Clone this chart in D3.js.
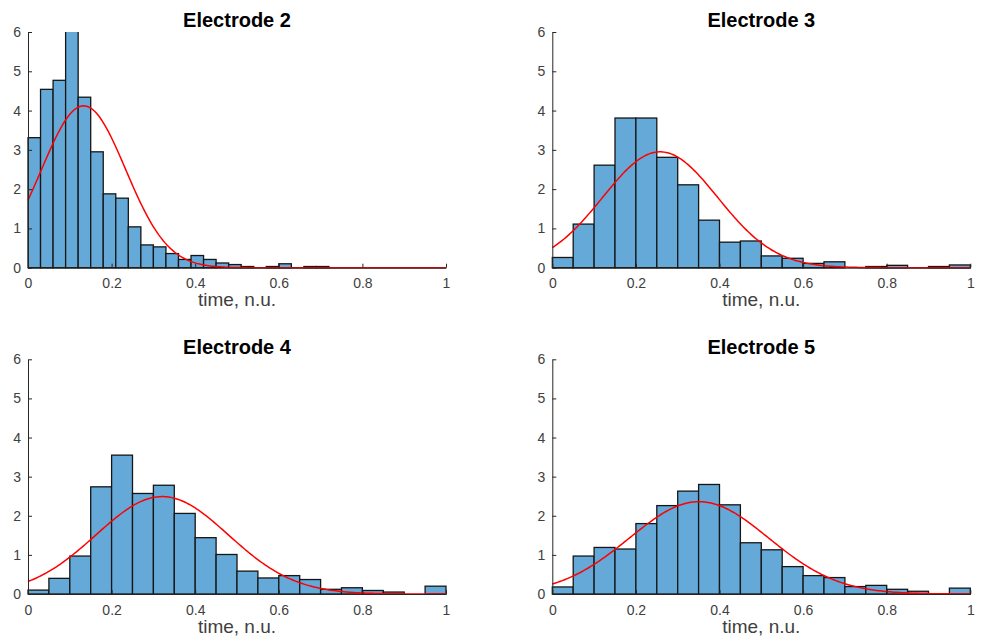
<!DOCTYPE html>
<html>
<head>
<meta charset="utf-8">
<script src="https://cdn.jsdelivr.net/npm/d3@7/dist/d3.min.js"></script>
<style>
  html, body { margin: 0; padding: 0; background: #fff; }
  svg { display: block; font-family: "Liberation Sans", Arial, Helvetica, sans-serif; }
</style>
</head>
<body>
<svg id="chart" width="983" height="638"></svg>
<script>
// ---- data ----
const titles = ["Electrode 2", "Electrode 3", "Electrode 4", "Electrode 5"];
const xLabel = "time, n.u.";
const xTicks = [0, 0.2, 0.4, 0.6, 0.8, 1];
const yTicks = [0, 1, 2, 3, 4, 5, 6];
const binWidths = [0.03, 0.05, 0.05, 0.05];

const e2Density = [3.31, 4.54, 4.77, 6.3, 4.34, 2.95, 1.88, 1.77, 1.04, 0.58, 0.53, 0.36,
                   0.21, 0.31, 0.21, 0.12, 0.08, 0.03, 0, 0.03, 0.10, 0, 0.03, 0.03];
const e3Density = [0.26, 1.11, 2.61, 3.81, 3.81, 2.81, 2.11, 1.21, 0.65, 0.68,
                   0.30, 0.24, 0.11, 0.15, 0, 0.03, 0.06, 0, 0.03, 0.07];
const e4Density = [0.10, 0.40, 0.97, 2.74, 3.55, 2.57, 2.78, 2.06, 1.44, 1.01,
                   0.585, 0.41, 0.47, 0.37, 0.12, 0.16, 0.09, 0.05, 0, 0.20];
const e5Density = [0.18, 0.97, 1.19, 1.15, 1.80, 2.26, 2.63, 2.80, 2.28, 1.31,
                   1.13, 0.70, 0.47, 0.42, 0.19, 0.22, 0.12, 0.07, 0, 0.15];

// fitted normal curves: mean, std, peak height
const fitMu    = [0.133, 0.258, 0.321, 0.351];
const fitSigma = [0.1007, 0.1377, 0.1585, 0.1665];
const fitPeak  = [4.12, 2.95, 2.49, 2.36];

const densities = [e2Density, e3Density, e4Density, e5Density];

// ---- layout ----
const panels = [
  { left: 28,    right: 446,   top: 32,    bottom: 267.7 },
  { left: 552.3, right: 970.3, top: 32,    bottom: 267.7 },
  { left: 28,    right: 446,   top: 359.3, bottom: 594 },
  { left: 552.3, right: 970.3, top: 359.3, bottom: 594 }
];

const svg = d3.select("#chart");
const axisColor = "#262626";
const tickTextColor = "#404040";

panels.forEach((p, i) => {
  const x = d3.scaleLinear().domain([0, 1]).range([p.left, p.right]);
  const y = d3.scaleLinear().domain([0, 6]).range([p.bottom, p.top]);

  const g = svg.append("g");
  const clipId = "clip" + i;
  svg.append("clipPath").attr("id", clipId)
    .append("rect")
    .attr("x", p.left - 2).attr("y", p.top)
    .attr("width", p.right - p.left + 4).attr("height", p.bottom - p.top + 2);

  const bw = binWidths[i];
  const bins = densities[i].map((v, k) => ({ x0: k * bw, x1: (k + 1) * bw, v }));

  g.append("g").attr("clip-path", `url(#${clipId})`)
    .selectAll("rect").data(bins.filter(b => b.v > 0)).join("rect")
    .attr("x", d => x(d.x0))
    .attr("width", d => x(d.x1) - x(d.x0))
    .attr("y", d => y(d.v))
    .attr("height", d => y(0) - y(d.v))
    .attr("fill", "#64a9d8")
    .attr("stroke", "#161616")
    .attr("stroke-width", 1.3);

  // fitted curve
  const xs = d3.range(0, 1.0001, 0.004);
  const mu = fitMu[i], s = fitSigma[i], pk = fitPeak[i];
  const line = d3.line()
    .x(d => x(d))
    .y(d => y(pk * Math.exp(-((d - mu) ** 2) / (2 * s * s))));
  g.append("path").datum(xs)
    .attr("clip-path", `url(#${clipId})`)
    .attr("d", line)
    .attr("fill", "none")
    .attr("stroke", "#ff0000")
    .attr("stroke-width", 1.5);

  // axes
  const xAxis = d3.axisBottom(x).tickValues(xTicks).tickSizeInner(-4).tickSizeOuter(0)
    .tickPadding(8).tickFormat(d3.format("~g"));
  const gx = g.append("g").attr("transform", `translate(0,${p.bottom})`).call(xAxis);
  const yAxis = d3.axisLeft(y).tickValues(yTicks).tickSizeInner(-4).tickSizeOuter(0)
    .tickPadding(7).tickFormat(d3.format("d"));
  const gy = g.append("g").attr("transform", `translate(${p.left},0)`).call(yAxis);

  [gx, gy].forEach(a => {
    a.select(".domain").attr("stroke", axisColor).attr("stroke-width", 1);
    a.selectAll(".tick line").attr("stroke", axisColor).attr("stroke-width", 1);
    a.selectAll(".tick text").attr("fill", tickTextColor)
      .style("font-size", "14px");
  });
  gx.selectAll(".tick text").attr("dy", "0.9em");

  // title
  g.append("text")
    .attr("x", (p.left + p.right) / 2)
    .attr("y", p.top - 5.5)
    .attr("text-anchor", "middle")
    .attr("font-weight", "bold")
    .attr("font-size", "20px")
    .attr("fill", "#000")
    .text(titles[i]);

  // x label
  g.append("text")
    .attr("x", (p.left + p.right) / 2)
    .attr("y", p.bottom + 38.5)
    .attr("text-anchor", "middle")
    .attr("font-size", "19px")
    .attr("fill", tickTextColor)
    .text(xLabel);
});
</script>
</body>
</html>
